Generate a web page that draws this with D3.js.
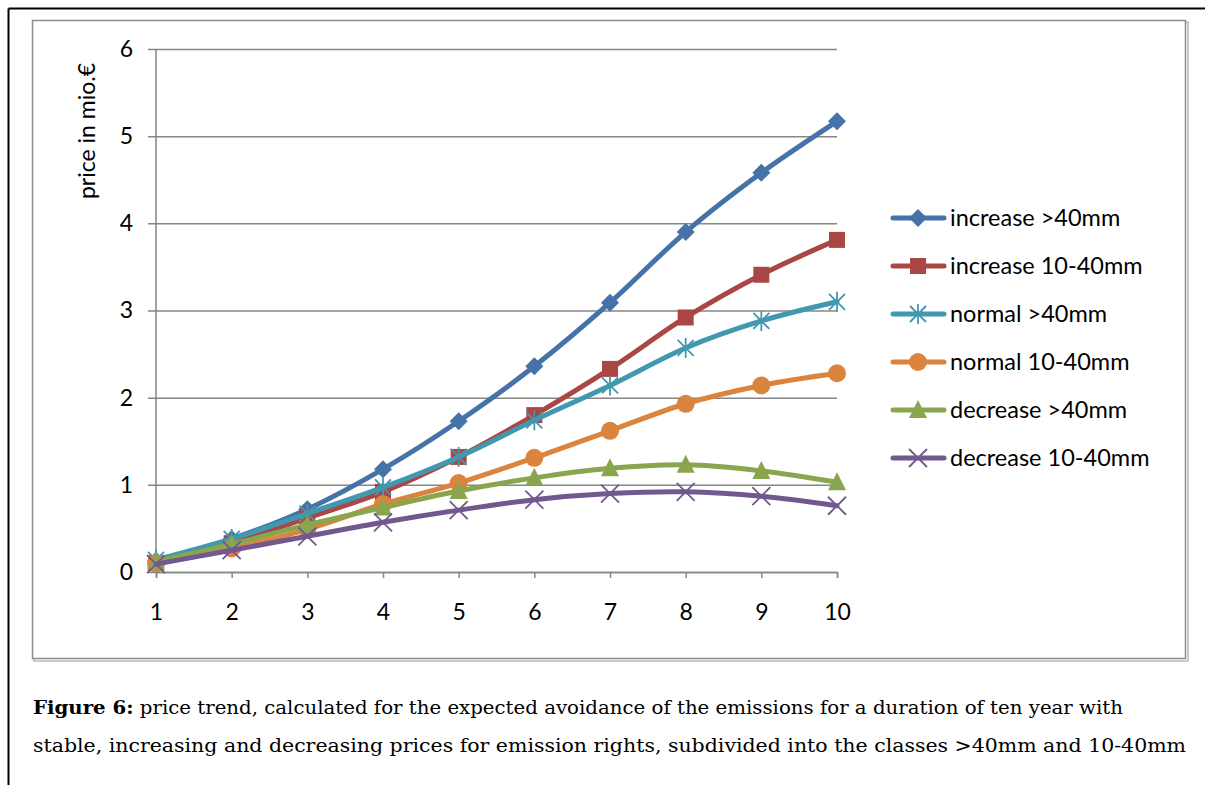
<!DOCTYPE html>
<html>
<head>
    <meta charset="utf-8">
    <title>Price trend</title>
    <script type="text/javascript" src="https://cdn.jsdelivr.net/npm/d3@7"></script>
    <style>
        body { margin: 0; background: #fff; }
        text { font-family: Lato, "Open Sans", sans-serif; fill: #000; }
        .caption text { font-family: "DejaVu Serif", serif; }
    </style>
</head>
<body>
<script type="text/javascript">
    // data
    var years = [1, 2, 3, 4, 5, 6, 7, 8, 9, 10];
    var seriesNames = ["increase >40mm", "increase 10-40mm", "normal >40mm",
        "normal 10-40mm", "decrease >40mm", "decrease 10-40mm"];
    var increase40 = [0.13, 0.38, 0.72, 1.18, 1.73, 2.36, 3.09, 3.90, 4.58, 5.17];
    var increase1040 = [0.10, 0.33, 0.62, 0.92, 1.32, 1.80, 2.33, 2.92, 3.41, 3.81];
    var normal40 = [0.14, 0.38, 0.67, 0.97, 1.32, 1.74, 2.14, 2.57, 2.88, 3.10];
    var normal1040 = [0.10, 0.27, 0.49, 0.78, 1.02, 1.31, 1.62, 1.93, 2.14, 2.28];
    var decrease40 = [0.12, 0.32, 0.54, 0.74, 0.93, 1.08, 1.19, 1.23, 1.16, 1.03];
    var decrease1040 = [0.09, 0.25, 0.41, 0.57, 0.71, 0.83, 0.90, 0.92, 0.87, 0.76];
    var yTicks = [0, 1, 2, 3, 4, 5, 6];

    var seriesValues = [increase40, increase1040, normal40, normal1040, decrease40, decrease1040];
    var colors = ["#4572A7", "#AA4643", "#4198AF", "#DB843D", "#89A54E", "#71588F"];
    var markers = ["diamond", "square", "asterisk", "circle", "triangle", "cross"];

    var width = 1205, height = 785;

    var svg = d3.select("body").append("svg")
            .attr("width", width)
            .attr("height", height);

    // page frame lines
    svg.append("line").attr("x1", 8.5).attr("y1", 8.5).attr("x2", width).attr("y2", 8.5)
            .attr("stroke", "#000").attr("stroke-width", 2);
    svg.append("line").attr("x1", 8.5).attr("y1", 8.5).attr("x2", 8.5).attr("y2", height)
            .attr("stroke", "#000").attr("stroke-width", 2);

    // chart area border with slight shadow
    svg.append("rect").attr("x", 34).attr("y", 22).attr("width", 1154).attr("height", 639)
            .attr("fill", "none").attr("stroke", "#b8b8b8").attr("stroke-width", 1.5);
    svg.append("rect").attr("x", 32.5).attr("y", 20.5).attr("width", 1153).attr("height", 638)
            .attr("fill", "#fff").attr("stroke", "#8c8c8c").attr("stroke-width", 1.5);

    var x = d3.scaleLinear().domain([1, 10]).range([156, 837]);
    var y = d3.scaleLinear().domain([0, 6]).range([572, 49]);

    // y gridlines + axis
    var yAxis = d3.axisLeft(y).tickValues(yTicks).tickSize(-(837 - 148)).tickPadding(15)
            .tickFormat(d3.format("d"));
    var gy = svg.append("g").attr("transform", "translate(148,0)").call(yAxis);
    gy.select(".domain").remove();
    gy.selectAll(".tick line").attr("stroke", "#868686").attr("stroke-width", 1.5);
    gy.selectAll(".tick text").attr("font-size", 23).attr("font-family", "Lato");

    svg.append("line").attr("x1", 156).attr("x2", 156).attr("y1", y(6)).attr("y2", y(0))
            .attr("stroke", "#868686").attr("stroke-width", 1.5);

    var xAxis = d3.axisBottom(x).tickValues(years).tickSize(6).tickPadding(26)
            .tickFormat(d3.format("d"));
    var gx = svg.append("g").attr("transform", "translate(0,572)").call(xAxis);
    gx.select(".domain").attr("stroke", "#868686").attr("stroke-width", 1.5);
    gx.selectAll(".tick line").attr("stroke", "#868686").attr("stroke-width", 1.5);
    gx.selectAll(".tick text").attr("font-size", 23).attr("font-family", "Lato");

    svg.append("text")
            .attr("transform", "translate(95,131) rotate(-90)")
            .attr("text-anchor", "middle")
            .attr("font-size", 23)
            .text("price in mio.\u20ac");

    function drawMarker(g, type, color) {
        if (type === "diamond") {
            g.append("path").attr("d", "M0,-9L9,0L0,9L-9,0Z").attr("fill", color);
        } else if (type === "square") {
            g.append("rect").attr("x", -8).attr("y", -8).attr("width", 16).attr("height", 16)
                    .attr("fill", color);
        } else if (type === "circle") {
            g.append("circle").attr("r", 9).attr("fill", color);
        } else if (type === "triangle") {
            g.append("path").attr("d", "M0,-10L9,8L-9,8Z").attr("fill", color);
        } else if (type === "asterisk") {
            g.append("path").attr("d", "M-8,-8L8,8M-8,8L8,-8M0,-10L0,10")
                    .attr("stroke", color).attr("stroke-width", 1.8).attr("fill", "none");
        } else if (type === "cross") {
            g.append("path").attr("d", "M-9,-9L9,9M-9,9L9,-9")
                    .attr("stroke", color).attr("stroke-width", 1.8).attr("fill", "none");
        }
    }

    var line = d3.line()
            .x(function (d, i) { return x(years[i]); })
            .y(function (d) { return y(d); })
            .curve(d3.curveCatmullRom.alpha(0));

    seriesValues.forEach(function (vals, s) {
        var g = svg.append("g");
        g.append("path").datum(vals)
                .attr("d", line)
                .attr("fill", "none")
                .attr("stroke", colors[s])
                .attr("stroke-width", 5)
                .attr("stroke-linejoin", "round")
                .attr("stroke-linecap", "round");
        vals.forEach(function (v, i) {
            var m = g.append("g").attr("transform", "translate(" + x(years[i]) + "," + y(v) + ")");
            drawMarker(m, markers[s], colors[s]);
        });
    });

    // legend
    var legend = svg.append("g");
    seriesNames.forEach(function (name, i) {
        var ly = 218 + i * 48;
        var lg = legend.append("g");
        lg.append("line").attr("x1", 893).attr("x2", 944).attr("y1", ly).attr("y2", ly)
                .attr("stroke", colors[i]).attr("stroke-width", 5).attr("stroke-linecap", "round");
        var m = lg.append("g").attr("transform", "translate(918," + ly + ")");
        drawMarker(m, markers[i], colors[i]);
        lg.append("text").attr("x", 950).attr("y", ly).attr("dy", "0.35em")
                .attr("font-size", 23.5).text(name);
    });

    // caption
    var cap = svg.append("g").attr("class", "caption");
    var t1 = cap.append("text").attr("x", 33).attr("y", 714).attr("font-size", 18)
            .attr("textLength", 1090).attr("lengthAdjust", "spacingAndGlyphs");
    t1.append("tspan").attr("font-weight", "bold").text("Figure 6:");
    t1.append("tspan").text(" price trend, calculated for the expected avoidance of the emissions for a duration of ten year with");
    cap.append("text").attr("x", 33).attr("y", 752).attr("font-size", 18)
            .attr("textLength", 1153).attr("lengthAdjust", "spacingAndGlyphs")
            .text("stable, increasing and decreasing prices for emission rights, subdivided into the classes >40mm and 10-40mm");
</script>
</body>
</html>
